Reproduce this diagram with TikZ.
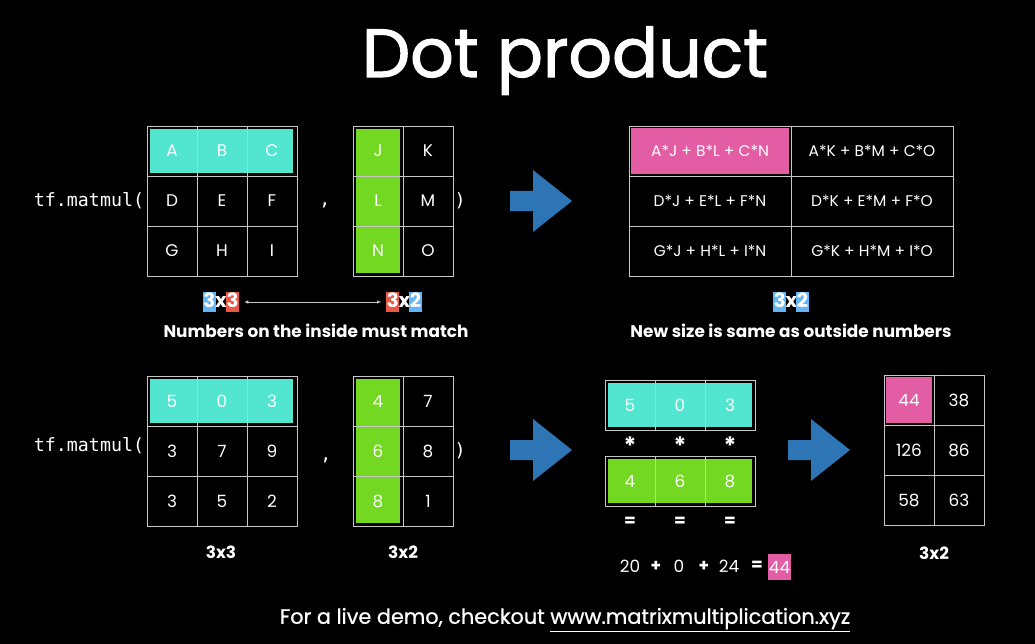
\documentclass[tikz,border=0pt]{standalone}
\usepackage{fontspec}
\setmainfont{Poppins}
\setmonofont{DejaVu Sans Mono}
\newfontfamily\titlefont{Poppins}[FakeBold=1.6]
\newfontfamily\demofont{Poppins}[FakeBold=0.8]
\usetikzlibrary{arrows.meta}
\definecolor{rowcyan}{RGB}{82,230,208}
\definecolor{colgreen}{RGB}{114,216,34}
\definecolor{hitpink}{RGB}{227,93,164}
\definecolor{arrowblue}{RGB}{46,117,182}
\definecolor{gridgray}{RGB}{200,200,200}
\definecolor{dimblue}{RGB}{100,181,246}
\definecolor{dimred}{RGB}{234,88,72}
\newcommand\dimbox[2]{{\setlength{\fboxsep}{0.4pt}\colorbox{#1}{\rule[-2.2pt]{0pt}{12.8pt}#2}}}
\begin{document}
\begin{tikzpicture}[x=0.025cm,y=-0.025cm,
  cell/.style={draw=gridgray,line width=0.6pt,minimum width=1.25cm,minimum height=1.25cm,text=white,font=\fontsize{12}{14}\selectfont},
  wide/.style={cell,minimum width=4.05cm,font=\fontsize{11}{13}\selectfont},
  lbl/.style={text=white,font=\bfseries\fontsize{12}{15}\selectfont},
  dim/.style={lbl,font=\bfseries\fontsize{14}{16}\selectfont},
  mono/.style={text=white,font=\ttfamily\fontsize{13}{16}\selectfont},
  band/.style={draw=black,line width=0.8pt},
  bigarrow/.style={fill=arrowblue},
  dimlink/.style={<->,>={Latex[length=3pt,width=2.5pt]},draw=gridgray,line width=0.5pt}]
  \useasboundingbox (0,0) rectangle (1035,644);
  \fill[black] (0,0) rectangle (1035,644);
  \node[text=white,font=\titlefont\fontsize{48.5}{58}\selectfont,anchor=base] (title) at (565,77) {Dot product};
  % first call, letters
  \fill[rowcyan,band] (149,128) rectangle (294,174);
  \fill[colgreen,band] (355,128) rectangle (401,274);
  \foreach \row [count=\r] in {{A,B,C},{D,E,F},{G,H,I}}
    \foreach \v [count=\c] in \row
      \node[cell] (a\r\c) at ({122+50*\c},{101+50*\r}) {\v};
  \foreach \row [count=\r] in {{J,K},{L,M},{N,O}}
    \foreach \v [count=\c] in \row
      \node[cell] (b\r\c) at ({328+50*\c},{101+50*\r}) {\v};
  \node[mono,anchor=east] (callA) at (149,201) {tf.matmul(};
  \node[mono] (sepA) at (325,205) {,};
  \node[mono] (closeA) at (460,201) {)};
  % result of the first call
  \fill[hitpink,band] (630,127) rectangle (790,175);
  \foreach \row [count=\r] in {{A*J + B*L + C*N,A*K + B*M + C*O},{D*J + E*L + F*N,D*K + E*M + F*O},{G*J + H*L + I*N,G*K + H*M + I*O}}
    \foreach \v [count=\c] in \row
      \node[wide] (r\r\c) at ({548+162*\c},{101+50*\r}) {\v};
  \node[dim] (dimA) at (221,302) {\dimbox{dimblue}{3}\kern-0.5pt x\kern-0.5pt\dimbox{dimred}{3}};
  \node[dim] (dimB) at (404,302) {\dimbox{dimred}{3}\kern-0.5pt x\kern-0.5pt\dimbox{dimblue}{2}};
  \draw[dimlink] (dimA) -- (dimB);
  \node[lbl] (ruleA) at (316,331) {Numbers on the inside must match};
  \node[dim] (dimC) at (791,302) {\dimbox{dimblue}{3}\kern-0.5pt x\kern-0.5pt\dimbox{dimblue}{2}};
  \node[lbl] (ruleB) at (791,331) {New size is same as outside numbers};
  % second call, numbers
  \fill[rowcyan,band] (149,378) rectangle (294,424);
  \fill[colgreen,band] (355,378) rectangle (401,524);
  \foreach \row [count=\r] in {{5,0,3},{3,7,9},{3,5,2}}
    \foreach \v [count=\c] in \row
      \node[cell] (m\r\c) at ({122+50*\c},{351+50*\r}) {\v};
  \foreach \row [count=\r] in {{4,7},{6,8},{8,1}}
    \foreach \v [count=\c] in \row
      \node[cell] (n\r\c) at ({328+50*\c},{351+50*\r}) {\v};
  \node[mono,anchor=east] (callB) at (149,446) {tf.matmul(};
  \node[mono] (sepB) at (326,460) {,};
  \node[mono] (closeB) at (460,451) {)};
  \node[lbl] (sizeA) at (221,552) {3x3};
  \node[lbl] (sizeB) at (403,552) {3x2};
  % row times column
  \fill[rowcyan,band] (607,382) rectangle (753,428);
  \fill[colgreen,band] (607,458) rectangle (753,504);
  \foreach \v [count=\c] in {5,0,3}
    \node[cell] (u\c) at ({580+50*\c},405) {\v};
  \foreach \v [count=\c] in {4,6,8}
    \node[cell] (w\c) at ({580+50*\c},481) {\v};
  \foreach \c in {1,2,3} {
    \node[lbl,font=\bfseries\fontsize{17}{18}\selectfont] (times\c) at ({580+50*\c},446) {*};
    \node[lbl] (equals\c) at ({580+50*\c},522) {=};
  }
  \node[cell,draw=none] (p1) at (630,566) {20};
  \node[cell,draw=none,font=\bfseries\fontsize{12}{14}\selectfont] (plus1) at (656,566) {+};
  \node[cell,draw=none] (p2) at (679,566) {0};
  \node[cell,draw=none,font=\bfseries\fontsize{12}{14}\selectfont] (plus2) at (704,566) {+};
  \node[cell,draw=none] (p3) at (729,566) {24};
  \node[cell,draw=none,font=\bfseries\fontsize{12}{14}\selectfont] (gives) at (757,566) {=};
  \node[cell,draw=none,fill=hitpink,minimum width=0.575cm,minimum height=0.65cm,inner sep=0pt] (sum) at (779.5,567) {44};
  % result of the second call
  \fill[hitpink,band] (885,376) rectangle (933,424);
  \foreach \row [count=\r] in {{44,38},{126,86},{58,63}}
    \foreach \v [count=\c] in \row
      \node[cell] (s\r\c) at ({859+50*\c},{350+50*\r}) {\v};
  \node[lbl] (sizeC) at (934,553) {3x2};
  % big arrows
  \foreach \ax/\ay in {510/201,510/450,788/450}
    \fill[bigarrow] (\ax,{\ay-10}) -- ({\ax+23},{\ay-10}) -- ({\ax+23},{\ay-31}) -- ({\ax+62},\ay)
      -- ({\ax+23},{\ay+31}) -- ({\ax+23},{\ay+10}) -- (\ax,{\ay+10}) -- cycle;
  \node[text=white,font=\demofont\fontsize{14.8}{17}\selectfont] (demo) at (565,620) {For a live demo, checkout \underline{www.matrixmultiplication.xyz}};
\end{tikzpicture}
\end{document}
